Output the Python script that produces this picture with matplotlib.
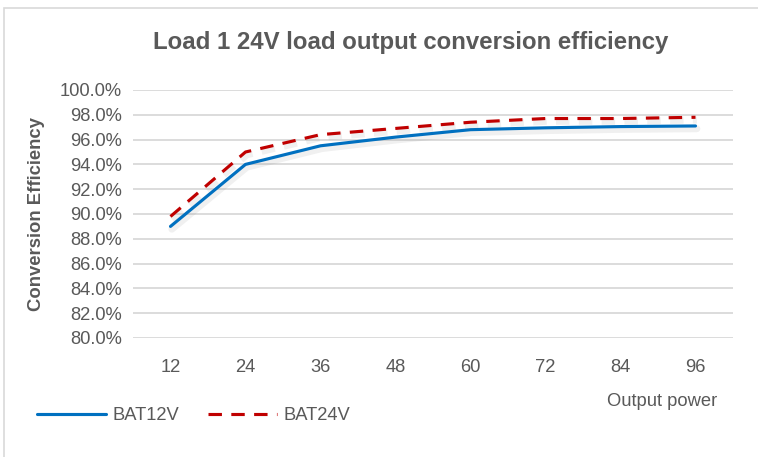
import matplotlib
matplotlib.use("Agg")
import matplotlib.pyplot as plt
import matplotlib.patheffects as pe
from matplotlib.lines import Line2D
from matplotlib.patches import Rectangle
from matplotlib.ticker import FuncFormatter

# Data
output_power = ["12", "24", "36", "48", "60", "72", "84", "96"]
bat12v = [89.0, 94.0, 95.5, 96.2, 96.8, 96.95, 97.05, 97.1]
bat24v = [89.8, 95.0, 96.4, 96.9, 97.4, 97.7, 97.7, 97.8]
series_names = ["BAT12V", "BAT24V"]
title = "Load 1 24V load output conversion efficiency"
y_label = "Conversion Efficiency"
x_label = "Output power"

TEXT = "#595959"
GRID = "#D9D9D9"
BLUE = "#0070C0"
RED = "#C00000"

plt.rcParams["font.family"] = ["Liberation Sans", "DejaVu Sans"]

W, H = 758, 457
fig = plt.figure(figsize=(W / 100, H / 100), dpi=100)
fig.patch.set_facecolor("white")

# chart-area border
fig.patches.append(Rectangle((4 / W, -0.05), 1.1, 1 - 8 / H + 0.05,
                             transform=fig.transFigure, fill=False,
                             edgecolor=GRID, linewidth=1.2))

ax = fig.add_axes([133 / W, 1 - 338 / H, 600 / W, 248 / H])
x = list(range(len(output_power)))

shadow = [pe.SimpleLineShadow(offset=(1.0, -2.0), shadow_color="#8c8c8c",
                              alpha=0.13, linewidth=5), pe.Normal()]

solid_style = dict(color=BLUE, linewidth=2.25, solid_capstyle="round",
                   solid_joinstyle="round")
dashed_style = dict(color=RED, linewidth=2.25, dashes=(4.3, 3.0),
                    dash_capstyle="butt")

l1, = ax.plot(x, bat12v, zorder=3, **solid_style)
l2, = ax.plot(x, bat24v, zorder=3, **dashed_style)
l1.set_path_effects(shadow)
l2.set_path_effects(shadow)

ax.set_xlim(-0.5, len(output_power) - 0.5)
ax.set_ylim(80, 100)
ax.set_yticks(range(80, 101, 2))
ax.yaxis.set_major_formatter(FuncFormatter(lambda v, p: f"{v:.1f}%"))
ax.set_xticks(x)
ax.set_xticklabels(output_power)

ax.grid(axis="y", color=GRID, linewidth=1.3)
ax.set_axisbelow(True)
for s in ax.spines.values():
    s.set_visible(False)
ax.tick_params(axis="both", length=0, labelsize=13.2, labelcolor=TEXT)
ax.tick_params(axis="x", pad=15)
ax.tick_params(axis="y", pad=8)

fig.text(411 / W, 1 - 43 / H, title, ha="center", va="center",
         fontsize=17.3, fontweight="bold", color=TEXT)
fig.text(37 / W, 1 - 214 / H, y_label, ha="center", va="center",
         rotation=90, fontsize=13.3, fontweight="bold", color=TEXT)
fig.text(662 / W, 1 - 402 / H, x_label, ha="center", va="center",
         fontsize=13.2, color=TEXT)

# legend keys without the drop shadow
handles = [Line2D([], [], **solid_style), Line2D([], [], **dashed_style)]
fig.legend(handles=handles, labels=series_names, loc="center left",
           bbox_to_anchor=(37 / W, 1 - 416 / H), ncol=2, frameon=False,
           fontsize=13.2, labelcolor=TEXT, handlelength=3.75,
           handletextpad=0.38, columnspacing=1.55, borderpad=0,
           borderaxespad=0)

fig.savefig("out.png", dpi=100, facecolor="white")
